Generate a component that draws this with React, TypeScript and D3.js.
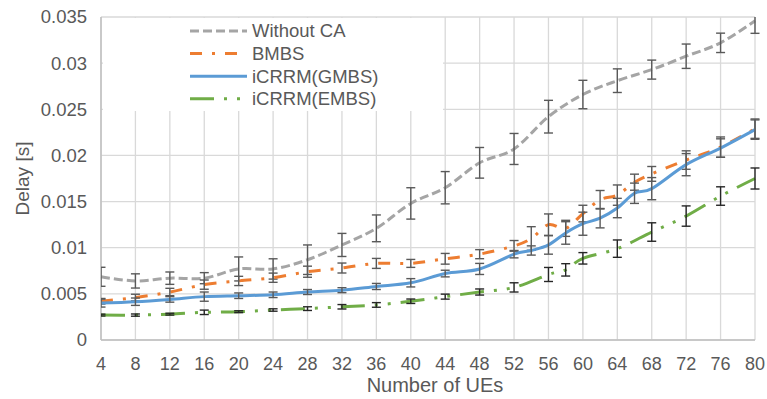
import React from "react";
import * as d3 from "d3";

// Axis ticks
const xTicks = [4, 8, 12, 16, 20, 24, 28, 32, 36, 40, 44, 48, 52, 56, 60, 64, 68, 72, 76, 80];
const yTicks = [0, 0.005, 0.01, 0.015, 0.02, 0.025, 0.03, 0.035];
const yTickLabels = ["0", "0.005", "0.01", "0.015", "0.02", "0.025", "0.03", "0.035"];

// Without CA
const noCaX = [4, 8, 12, 16, 20, 24, 28, 32, 36, 40, 44, 48, 52, 56, 60, 64, 68, 72, 76, 80];
const noCaY = [0.00685, 0.0064, 0.0067, 0.0067, 0.0077, 0.0077, 0.0087, 0.0103, 0.0121, 0.0148, 0.0165, 0.0192, 0.0207, 0.0242, 0.0266, 0.0281, 0.0293, 0.03075, 0.0322, 0.0346];
const noCaErr = [0.00103, 0.00077, 0.00067, 0.0006, 0.0013, 0.0011, 0.0016, 0.00125, 0.00145, 0.0017, 0.00175, 0.00166, 0.00168, 0.00177, 0.00154, 0.00128, 0.00103, 0.00132, 0.00105, 0.00137];

// BMBS
const bmbsX = [4, 8, 12, 16, 20, 24, 28, 32, 36, 40, 44, 48, 52, 54, 56, 58, 60, 62, 64, 66, 68, 72, 76, 80];
const bmbsY = [0.0042, 0.0046, 0.0052, 0.006, 0.0064, 0.00675, 0.0074, 0.0078, 0.0083, 0.0083, 0.0088, 0.0093, 0.0102, 0.011, 0.0125, 0.0121, 0.0137, 0.0152, 0.0157, 0.0171, 0.018, 0.0195, 0.0209, 0.0229];
const bmbsErr = [0.0003, 0.00036, 0.0004, 0.0005, 0.0005, 0.0005, 0.0006, 0.00054, 0.00054, 0.00043, 0.00058, 0.00049, 0.00058, 0.00128, 0.00116, 0.00087, 0.0009, 0.001, 0.0011, 0.00087, 0.0008, 0.001, 0.0011, 0.00105];

// iCRRM(GMBS)
const gmbsX = [4, 8, 12, 16, 20, 24, 28, 32, 36, 40, 44, 48, 52, 54, 56, 58, 60, 62, 64, 66, 68, 72, 76, 80];
const gmbsY = [0.004, 0.00415, 0.0044, 0.0047, 0.0048, 0.0049, 0.0052, 0.0054, 0.0058, 0.0062, 0.0072, 0.0077, 0.0093, 0.0097, 0.0103, 0.0116, 0.0126, 0.0132, 0.0143, 0.0159, 0.0164, 0.019, 0.0208, 0.0228];
const gmbsErr = [0.00043, 0.0004, 0.0003, 0.0005, 0.0003, 0.0003, 0.00027, 0.00027, 0.00033, 0.00045, 0.00036, 0.0006, 0.0004, 0.0005, 0.001, 0.00122, 0.00125, 0.00105, 0.00105, 0.0011, 0.0012, 0.0012, 0.001, 0.00105];

// iCRRM(EMBS)
const embsX = [4, 8, 12, 16, 20, 24, 28, 32, 36, 40, 44, 48, 52, 56, 58, 60, 64, 68, 72, 76, 80];
const embsY = [0.0027, 0.0027, 0.0028, 0.003, 0.00307, 0.00325, 0.0034, 0.0036, 0.0038, 0.0042, 0.0047, 0.0052, 0.0057, 0.0071, 0.0076, 0.00885, 0.0099, 0.0117, 0.01343, 0.0156, 0.0175];
const embsErr = [0.0001, 0.00012, 0.0001, 0.00024, 0.0001, 0.00013, 0.0002, 0.00024, 0.00025, 0.00024, 0.00027, 0.00033, 0.0005, 0.00076, 0.00067, 0.00062, 0.00094, 0.001, 0.0011, 0.001, 0.00114];

const seriesNames = ["Without CA", "BMBS", "iCRRM(GMBS)", "iCRRM(EMBS)"];

type Series = {
  name: string;
  xs: number[];
  ys: number[];
  errs: number[];
  color: string;
  dash: string;
  errColor: string;
};

const series: Series[] = [
  { name: seriesNames[0], xs: noCaX, ys: noCaY, errs: noCaErr, color: "#A5A5A5", dash: "9,4", errColor: "#595959" },
  { name: seriesNames[1], xs: bmbsX, ys: bmbsY, errs: bmbsErr, color: "#ED7D31", dash: "12,10,3,10", errColor: "#595959" },
  { name: seriesNames[2], xs: gmbsX, ys: gmbsY, errs: gmbsErr, color: "#5B9BD5", dash: "", errColor: "#595959" },
  { name: seriesNames[3], xs: embsX, ys: embsY, errs: embsErr, color: "#70AD47", dash: "24,10,3,10,3,10", errColor: "#262626" },
];

const W = 767;
const H = 399;
const left = 101;
const right = 755;
const top = 17;
const bottom = 340;
const FONT = "'Liberation Sans', Arial, Helvetica, sans-serif";
const TEXT = "#595959";

export default function App() {
  const x = d3.scaleLinear().domain([4, 80]).range([left, right]);
  const y = d3.scaleLinear().domain([0, 0.035]).range([bottom, top]);
  const line = d3
    .line<[number, number]>()
    .x((d) => x(d[0]))
    .y((d) => y(d[1]))
    .curve(d3.curveCatmullRom.alpha(0));

  const cap = 4.5;

  return (
    <svg
      width={W}
      height={H}
      style={{ position: "absolute", left: 0, top: 0, background: "#fff" }}
      fontFamily={FONT}
    >
      <defs>
        <clipPath id="plotClip">
          <rect x={left} y={top} width={W - left} height={bottom - top} />
        </clipPath>
      </defs>

      {/* gridlines */}
      <g stroke="#D9D9D9" strokeWidth={1.3}>
        {yTicks.map((t) => (
          <line key={"gy" + t} x1={left} x2={right} y1={y(t)} y2={y(t)} />
        ))}
        {xTicks.map((t) => (
          <line key={"gx" + t} x1={x(t)} x2={x(t)} y1={top} y2={bottom} />
        ))}
      </g>

      {/* axes */}
      <g stroke="#BFBFBF" strokeWidth={1.5}>
        <line x1={left} x2={left} y1={top} y2={bottom} />
        <line x1={left} x2={right} y1={bottom} y2={bottom} />
      </g>

      {/* series with error bars */}
      {series.map((s) => {
        const pts = s.xs.map((v, i) => [v, s.ys[i]] as [number, number]);
        return (
          <g key={s.name}>
            <path
              d={line(pts) || ""}
              fill="none"
              stroke={s.color}
              strokeWidth={3}
              strokeDasharray={s.dash || undefined}
            />
            <g stroke={s.errColor} strokeWidth={1.4} clipPath="url(#plotClip)">
              {pts.map((p, i) => {
                const cx = x(p[0]);
                const y1 = y(p[1] + s.errs[i]);
                const y2 = y(p[1] - s.errs[i]);
                return (
                  <g key={i}>
                    <line x1={cx} x2={cx} y1={y1} y2={y2} />
                    <line x1={cx - cap} x2={cx + cap} y1={y1} y2={y1} />
                    <line x1={cx - cap} x2={cx + cap} y1={y2} y2={y2} />
                  </g>
                );
              })}
            </g>
          </g>
        );
      })}

      {/* legend */}
      <rect x={103} y={18} width={340} height={93} fill="#fff" />
      {series.map((s, i) => {
        const ly = 31 + i * 22.6;
        return (
          <g key={"lg" + s.name}>
            <line
              x1={190}
              x2={247}
              y1={ly}
              y2={ly}
              stroke={s.color}
              strokeWidth={3}
              strokeDasharray={s.dash || undefined}
            />
            <text x={252} y={ly} dy="0.35em" fontSize={18.5} fill={TEXT}>
              {s.name}
            </text>
          </g>
        );
      })}

      {/* y tick labels */}
      {yTicks.map((t, i) => (
        <text key={"yl" + t} x={87} y={y(t)} dy="0.35em" textAnchor="end" fontSize={18.5} fill={TEXT}>
          {yTickLabels[i]}
        </text>
      ))}

      {/* x tick labels */}
      {xTicks.map((t) => (
        <text key={"xl" + t} x={x(t)} y={363.5} dy="0.35em" textAnchor="middle" fontSize={18} fill={TEXT}>
          {t}
        </text>
      ))}

      {/* axis titles */}
      <text x={435} y={385} dy="0.35em" textAnchor="middle" fontSize={20} fill={TEXT}>
        Number of UEs
      </text>
      <text
        transform={`translate(22, ${(top + bottom) / 2}) rotate(-90)`}
        dy="0.35em"
        textAnchor="middle"
        fontSize={19}
        fill={TEXT}
      >
        Delay [s]
      </text>
    </svg>
  );
}
